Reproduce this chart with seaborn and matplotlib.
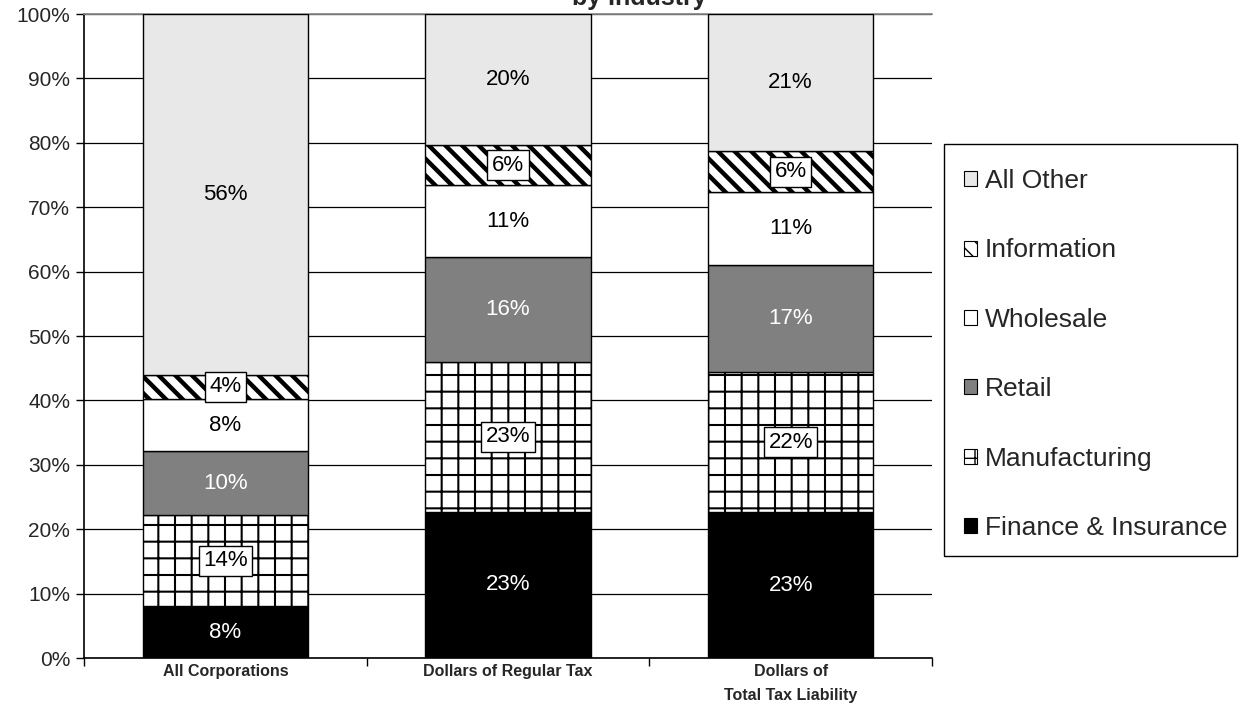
import matplotlib
matplotlib.use("Agg")
import matplotlib.pyplot as plt
from matplotlib.patches import Patch, Rectangle
import numpy as np
import pandas as pd
import seaborn as sns

categories = ["All Corporations", "Dollars of Regular Tax", "Dollars of\nTotal Tax Liability"]
finance = [8.0, 22.7, 22.6]
manufacturing = [14.2, 23.3, 21.8]
retail = [9.9, 16.3, 16.6]
wholesale = [8.1, 11.1, 11.3]
information = [3.8, 6.3, 6.4]
all_other = [56.0, 20.3, 21.3]

series_names = ["Finance & Insurance", "Manufacturing", "Retail", "Wholesale", "Information", "All Other"]
series_values = [finance, manufacturing, retail, wholesale, information, all_other]

# styling per series: face, hatch, hatch linewidth, label colour, boxed label
styles = {
    "Finance & Insurance": ("black", None, 1.0, "white", False),
    "Manufacturing": ("white", "+", 1.5, "black", True),
    "Retail": ("#808080", None, 1.0, "white", False),
    "Wholesale": ("white", None, 1.0, "black", False),
    "Information": ("white", "\\\\", 3.2, "black", True),
    "All Other": ("#e8e8e8", None, 1.0, "black", False),
}

sns.set_theme(style="white")
plt.rcParams["font.family"] = ["Liberation Sans", "DejaVu Sans"]

fig = plt.figure(figsize=(12.41, 7.28), dpi=100)
ax = fig.add_axes([84 / 1241, 1 - 658 / 728, (932 - 84) / 1241, (658 - 14) / 728])

bottom = np.zeros(len(categories))
handles = []
for name, vals in zip(series_names, series_values):
    face, hatch, hlw, tcolor, boxed = styles[name]
    vals = np.array(vals)
    df = pd.DataFrame({"cat": categories, "val": vals})
    n_before = len(ax.patches)
    with plt.rc_context({"hatch.linewidth": hlw}):
        sns.barplot(data=df, x="cat", y="val", bottom=bottom, color=face, saturation=1,
                    width=0.585, edgecolor="black", linewidth=1.0, hatch=hatch,
                    errorbar=None, ax=ax, zorder=3)
    for p in ax.patches[n_before:]:
        if hasattr(p, "set_hatch_linewidth"):
            p.set_hatch_linewidth(hlw)
    for i, v in enumerate(vals):
        y = bottom[i] + v / 2
        kw = {}
        if boxed:
            kw["bbox"] = dict(boxstyle="square,pad=0.2", facecolor="white", edgecolor="black", linewidth=1.0)
        ax.text(i, y, f"{round(v):.0f}%", ha="center", va="center", fontsize=16,
                color=tcolor, zorder=5, **kw)
    bottom = bottom + vals
    handles.append(Patch(facecolor=face, edgecolor="black", hatch=hatch, linewidth=0.8, label=name))

ax.set_xlim(-0.5, 2.5)
ax.set_ylim(0, 100)
ax.set_yticks(np.arange(0, 101, 10))
ax.set_yticklabels([f"{t}%" for t in range(0, 101, 10)], fontsize=15)
ax.yaxis.grid(True, color="black", linewidth=0.9, zorder=0)
ax.set_axisbelow(True)
ax.set_xticks(range(len(categories)))
ax.set_xticklabels(categories, fontsize=11.5, fontweight="bold", linespacing=1.75)
ax.set_xticks([-0.5, 0.5, 1.5, 2.5], minor=True)
ax.tick_params(axis="x", which="major", length=0, pad=4)
ax.tick_params(axis="x", which="minor", length=6, width=1, color="black", direction="out", bottom=True)
ax.tick_params(axis="y", length=6, width=1, color="black", direction="out", left=True, pad=4)
ax.set_xlabel("")
ax.set_ylabel("")
for side in ["left", "bottom"]:
    ax.spines[side].set_color("black")
    ax.spines[side].set_linewidth(1.2)
ax.spines["top"].set_color("#888888")
ax.spines["right"].set_visible(False)

# legend box drawn separately so its padding matches the original
fig.add_artist(Rectangle((944 / 1241, 1 - 556 / 728), (1237 - 944) / 1241, (556 - 144) / 728,
                         transform=fig.transFigure, fill=False, edgecolor="black", linewidth=1.0))
leg = fig.legend(handles=handles[::-1], loc="center left",
                 bbox_to_anchor=(964 / 1241, 1 - 354.5 / 728), fontsize=19,
                 frameon=False, borderpad=0, borderaxespad=0,
                 handlelength=0.5, handleheight=0.5, handletextpad=0.3,
                 labelspacing=1.72)

fig.text(639 / 1241, 1 - 5 / 728, "by Industry", ha="center", va="baseline",
         fontsize=18, fontweight="bold")

fig.savefig("out.png", dpi=100)
